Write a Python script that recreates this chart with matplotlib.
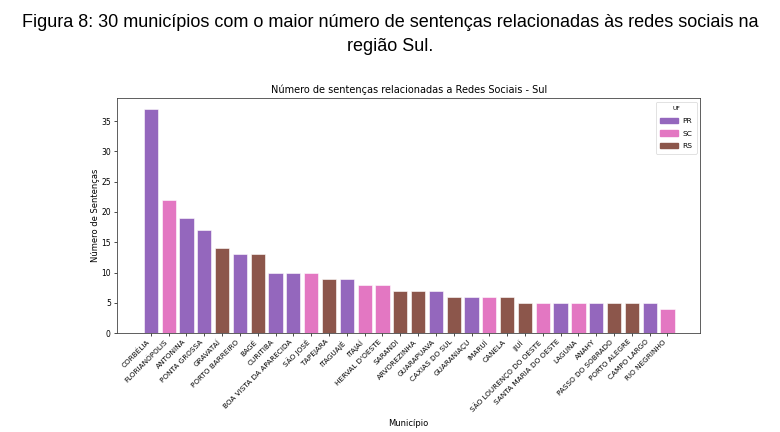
import matplotlib.pyplot as plt
from matplotlib.patches import Patch

municipios = ['CORBÉLIA', 'FLORIANÓPOLIS', 'ANTONINA', 'PONTA GROSSA', 'GRAVATAÍ',
              'PORTO BARREIRO', 'BAGÉ', 'CURITIBA', 'BOA VISTA DA APARECIDA', 'SÃO JOSÉ',
              'TAPEJARA', 'ITAGUAJÉ', 'ITAJAÍ', "HERVAL D'OESTE", 'SARANDI',
              'ARVOREZINHA', 'GUARAPUAVA', 'CAXIAS DO SUL', 'GUARANIAÇU', 'IMARUÍ',
              'CANELA', 'IJUÍ', 'SÃO LOURENÇO DO OESTE', 'SANTA MARIA DO OESTE', 'LAGUNA',
              'ANAHY', 'PASSO DO SOBRADO', 'PORTO ALEGRE', 'CAMPO LARGO', 'RIO NEGRINHO']
sentencas = [37, 22, 19, 17, 14, 13, 13, 10, 10, 10,
             9, 9, 8, 8, 7, 7, 7, 6, 6, 6,
             6, 5, 5, 5, 5, 5, 5, 5, 5, 4]
uf = ['PR', 'SC', 'PR', 'PR', 'RS', 'PR', 'RS', 'PR', 'PR', 'SC',
      'RS', 'PR', 'SC', 'SC', 'RS', 'RS', 'PR', 'RS', 'PR', 'SC',
      'RS', 'RS', 'SC', 'PR', 'SC', 'PR', 'RS', 'RS', 'PR', 'SC']

cores = {'PR': '#9467bd', 'SC': '#e377c2', 'RS': '#8c564b'}

fig = plt.figure(figsize=(7.8, 4.32), dpi=100)
fig.text(0.5, 0.947, 'Figura 8: 30 municípios com o maior número de sentenças relacionadas às redes sociais na',
         ha='center', va='center', fontsize=13, family='Liberation Sans')
fig.text(0.5, 0.893, 'região Sul.', ha='center', va='center', fontsize=13, family='Liberation Sans')

ax = fig.add_axes([0.150, 0.229, 0.748, 0.544])
x = list(range(len(municipios)))
ax.bar(x, sentencas, width=0.8, color=[cores[u] for u in uf], edgecolor='white', linewidth=0.4)

ax.set_xlim(-1.9, 30.85)
ax.set_ylim(0, 38.8)
ax.set_xticks(x)
ax.set_xticklabels(municipios, rotation=45, ha='right', fontsize=5.2)
ax.tick_params(axis='y', labelsize=5.5, length=2.5, width=0.5, pad=2)
ax.tick_params(axis='x', length=2.5, width=0.5, pad=1.5)
for s in ax.spines.values():
    s.set_linewidth(0.6)
    s.set_color('#444444')

ax.set_title('Número de sentenças relacionadas a Redes Sociais - Sul', fontsize=7, pad=4)
ax.set_xlabel('Município', fontsize=6)
ax.set_ylabel('Número de Sentenças', fontsize=6, labelpad=1)

handles = [Patch(color=cores[k], label=k) for k in ['PR', 'SC', 'RS']]
leg = ax.legend(handles=handles, title='UF', fontsize=5.4, title_fontsize=4.3,
                loc='upper right', handlelength=2.3, handleheight=0.7, labelspacing=0.85,
                borderpad=0.6, handletextpad=0.6, frameon=True)
leg.get_frame().set_linewidth(0.5)

fig.savefig('out.png', dpi=100)
